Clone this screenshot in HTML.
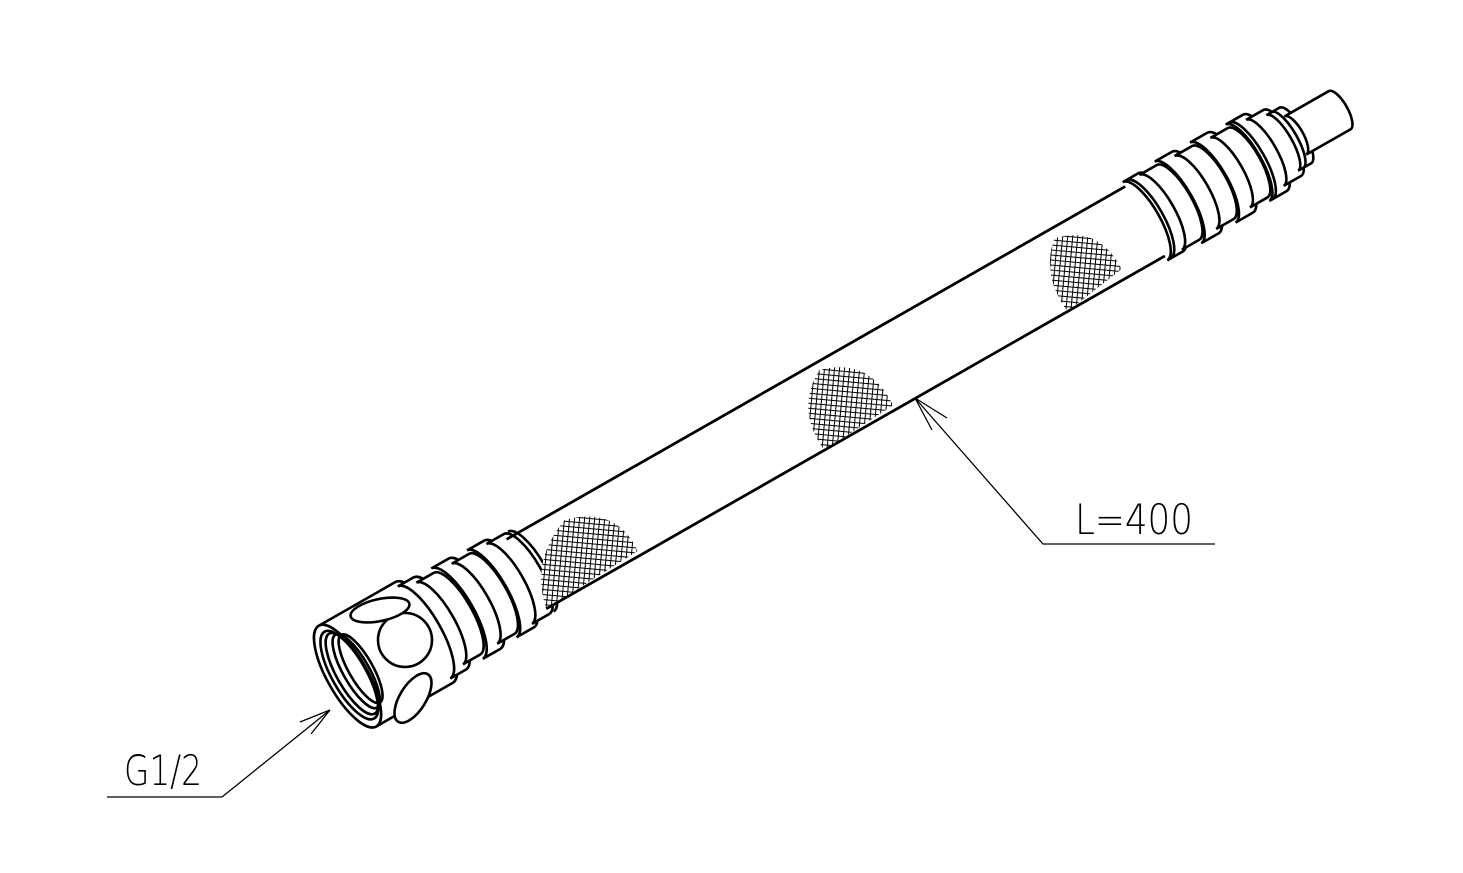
<!DOCTYPE html>
<html><head><meta charset="utf-8"><style>
html,body{margin:0;padding:0;background:#fff;}
svg{display:block;}
text{font-family:"DejaVu Sans","Liberation Sans",sans-serif;font-weight:200;}
</style></head><body>
<svg width="1463" height="873" viewBox="0 0 1463 873" xmlns="http://www.w3.org/2000/svg">
<defs>
<pattern id="mesh" width="5" height="5" patternUnits="userSpaceOnUse" patternTransform="rotate(35)">
<rect width="5" height="5" fill="#fff"/>
<path d="M0 0 L0 5 M0 0 L5 0" stroke="#000" stroke-width="2"/>
</pattern>
</defs>
<rect width="1463" height="873" fill="#fff"/>
<g transform="translate(900,361) rotate(-29.7)" stroke="#000" stroke-width="2.6" fill="#fff">
<!-- nut -->
<path d="M-636 -58 L-548 -58 A19 58 0 0 1 -548 58 L-636 58 Z"/>
<ellipse cx="-636" cy="0" rx="20" ry="58"/>
<ellipse cx="-634" cy="0" rx="17" ry="50"/>
<ellipse cx="-631" cy="0" rx="15" ry="46" fill="none"/>
<ellipse cx="-626" cy="0" rx="13" ry="42" fill="none"/>
<ellipse cx="-621" cy="0" rx="12" ry="39" fill="none"/>
<!-- left corrugations -->
<path d="M-548 -53 L-530 -53 A17 53 0 0 1 -530 53 L-548 53 A17 53 0 0 0 -548 -53 Z"/>
<path d="M-530 -47 L-510 -47 A15 47 0 0 1 -510 47 L-530 47 A15 47 0 0 0 -530 -47 Z"/>
<path d="M-510 -52 L-490 -52 A17 52 0 0 1 -490 52 L-510 52 A17 52 0 0 0 -510 -52 Z"/>
<path d="M-490 -46 L-470 -46 A15 46 0 0 1 -470 46 L-490 46 A15 46 0 0 0 -490 -46 Z"/>
<path d="M-470 -50 L-450 -50 A16 50 0 0 1 -450 50 L-470 50 A16 50 0 0 0 -470 -50 Z"/>
<path d="M-450 -46 L-430 -46 A15 46 0 0 1 -430 46 L-450 46 A15 46 0 0 0 -450 -46 Z"/>
<path d="M-425 -46 A15 46 0 0 1 -425 46" fill="none"/>
<!-- tube -->
<path d="M-430 -40 L282 -40 M-430 40 L282 40" fill="none"/>
<!-- mesh patches -->
<path d="M170 40 Q165 -5 195 -30 Q240 -20 238 30 Z" fill="url(#mesh)" stroke="none"/>
<path d="M-110 40 Q-115 -10 -75 -32 Q-25 -20 -28 35 Z" fill="url(#mesh)" stroke="none"/>
<path d="M-430 40 Q-420 -10 -370 -28 Q-318 -15 -322 35 Z" fill="url(#mesh)" stroke="none"/>
<path d="M-430 -40 L282 -40 M-430 40 L282 40" fill="none"/>
<!-- right fittings -->
<path d="M282 -45 L300 -45 A15 45 0 0 1 300 45 L282 45 A15 45 0 0 0 282 -45 Z"/>
<path d="M286 -45 A15 45 0 0 1 286 45" fill="none"/>
<path d="M300 -43 L320 -43 A14 43 0 0 1 320 43 L300 43 A14 43 0 0 0 300 -43 Z"/>
<path d="M320 -47 L340 -47 A15 47 0 0 1 340 47 L320 47 A15 47 0 0 0 320 -47 Z"/>
<path d="M340 -42 L360 -42 A14 42 0 0 1 360 42 L340 42 A14 42 0 0 0 340 -42 Z"/>
<path d="M360 -46 L380 -46 A15 46 0 0 1 380 46 L360 46 A15 46 0 0 0 360 -46 Z"/>
<path d="M380 -40 L400 -40 A13 40 0 0 1 400 40 L380 40 A13 40 0 0 0 380 -40 Z"/>
<path d="M400 -44 L420 -44 A14 44 0 0 1 420 44 L400 44 A14 44 0 0 0 400 -44 Z"/>
<path d="M404 -44 A14 44 0 0 1 404 44" fill="none"/>
<path d="M420 -38 L440 -38 A12 38 0 0 1 440 38 L420 38 A12 38 0 0 0 420 -38 Z"/>
<path d="M440 -32 L455 -32 A10 32 0 0 1 455 32 L440 32 A10 32 0 0 0 440 -32 Z"/>
<path d="M446 -32 A10 32 0 0 1 446 32" fill="none"/>
<path d="M455 -22 L506 -22 A8 22 0 0 1 506 22 L455 22 A8 22 0 0 0 455 -22 Z"/>
</g>
<!-- nut holes -->
<g stroke="#000" stroke-width="2.6" fill="#fff">
<circle cx="405" cy="640" r="27"/>
<ellipse cx="380" cy="610" rx="30" ry="11" transform="rotate(-12 380 610)"/>
<ellipse cx="413" cy="698" rx="28" ry="13" transform="rotate(-58 413 698)"/>
</g>
<!-- leaders -->
<g stroke="#000" stroke-width="1.3" fill="none">
<path d="M1215 544 L1043 544 L915 398"/>
<path d="M915 398 L947 418 M915 398 L932 430"/>
<path d="M222 797 L107 797 M222 797 L330 710"/>
<path d="M330 710 L300 722 M330 710 L311 734"/>
</g>
<text x="1075" y="534" font-size="42" textLength="118" lengthAdjust="spacingAndGlyphs">L=400</text>
<text x="124" y="785" font-size="42" textLength="78" lengthAdjust="spacingAndGlyphs">G1/2</text>
</svg>
</body></html>
